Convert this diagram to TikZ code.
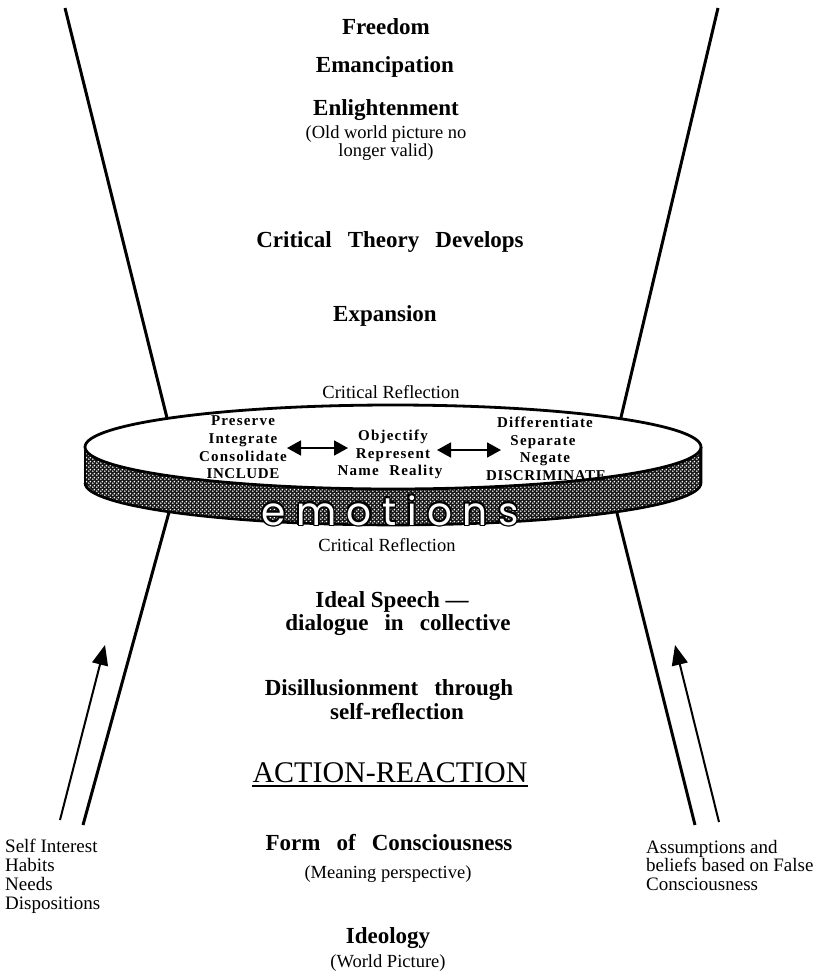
\documentclass[tikz,border=0pt]{standalone}
\usepackage{fontspec}
\setmainfont{Liberation Serif}
\newfontfamily\spacedfont[LetterSpace=8]{Liberation Serif}
\newfontfamily\capsfont[LetterSpace=4]{Liberation Serif}
\newfontfamily\emofont[LetterSpace=27]{Poppins}
\usetikzlibrary{arrows.meta,patterns}
\pgfdeclarepatternformonly{banddots}{\pgfqpoint{0pt}{0pt}}{\pgfqpoint{4pt}{4pt}}{\pgfqpoint{4pt}{4pt}}{%
  \pgfpathcircle{\pgfqpoint{1pt}{1pt}}{1.05pt}\pgfusepath{fill}%
  \pgfpathcircle{\pgfqpoint{3pt}{3pt}}{1.05pt}\pgfusepath{fill}}
\newcommand\ws{\hspace{0.7em}}
\begin{document}
\begin{tikzpicture}[x=1pt,y=-1pt,
  big/.style={font=\fontsize{23}{26}\selectfont\bfseries, anchor=base, inner sep=0pt},
  paren/.style={font=\fontsize{18.5}{21}\selectfont, anchor=base, inner sep=0pt},
  side/.style={font=\fontsize{19}{21}\selectfont, anchor=base west, inner sep=0pt},
  inner/.style={font=\spacedfont\fontsize{15}{17}\selectfont\bfseries, anchor=base, inner sep=0pt},
  innercaps/.style={font=\capsfont\fontsize{15}{17}\selectfont\bfseries, anchor=base, inner sep=0pt},
  funnel/.style={line width=3pt},
  thinarrow/.style={line width=2pt, -{Triangle[length=20pt,width=16pt]}},
  dbl/.style={line width=1.8pt, {Triangle[length=14pt,width=15pt]}-{Triangle[length=14pt,width=15pt]}},
  emo/.style={font=\emofont\fontsize{39}{44}\selectfont, anchor=base, inner sep=0pt}
]
\useasboundingbox (0,0) rectangle (817,972);

% funnel lines
\coordinate (ult) at (65,8);   \coordinate (ulb) at (170,430);
\coordinate (urt) at (718,8);  \coordinate (urb) at (618,430);
\coordinate (llt) at (171,505); \coordinate (llb) at (83,825);
\coordinate (lrt) at (615,505); \coordinate (lrb) at (695,825);
\draw[funnel] (ult) -- (ulb);
\draw[funnel] (urt) -- (urb);
\draw[funnel] (llt) -- (llb);
\draw[funnel] (lrt) -- (lrb);

% disc side band
\fill[black!90] (85,483) arc[start angle=180,end angle=360,x radius=308pt,y radius=42pt]
   -- (701,447) arc[start angle=0,end angle=-180,x radius=308pt,y radius=42pt] -- cycle;
\fill[pattern=banddots, pattern color=white] (85,483) arc[start angle=180,end angle=360,x radius=308pt,y radius=42pt]
   -- (701,447) arc[start angle=0,end angle=-180,x radius=308pt,y radius=42pt] -- cycle;
\draw[line width=2.6pt] (85,483) arc[start angle=180,end angle=360,x radius=308pt,y radius=42pt]
   -- (701,447);
\draw[line width=2.6pt] (85,447) -- (85,483);

% emotions outlined text
\coordinate (emoc) at (390,525);
\foreach \dx/\dy in {1.6/0,-1.6/0,0/1.6,0/-1.6,1.15/1.15,1.15/-1.15,-1.15/1.15,-1.15/-1.15}
  \node[emo, text=black, xshift=\dx pt, yshift=\dy pt] at (emoc) {emotions};
\node[emo, text=white] (emotions) at (emoc) {emotions};

% top face
\filldraw[fill=white, line width=2.8pt] (393,447) ellipse[x radius=308pt, y radius=42pt];

% top texts
\node[big] (freedom) at (386,34) {Freedom};
\node[big] (emanc) at (385,72) {Emancipation};
\node[big] (enl) at (386,115) {Enlightenment};
\node[paren] (old1) at (386,138) {(Old world picture no};
\node[paren] (old2) at (386,156) {longer valid)};
\node[big] (ctd) at (390,247) {Critical\ws Theory\ws Develops};
\node[big] (exp) at (385,321) {Expansion};
\node[paren] (cr1) at (391,398) {Critical Reflection};

% disc texts
\node[inner] (pres) at (243,425) {Preserve};
\node[inner] (integ) at (243,443) {Integrate};
\node[inner] (cons) at (243,461) {Consolidate};
\node[innercaps] (incl) at (243,478) {INCLUDE};
\node[inner] (obj) at (393,440) {Objectify};
\node[inner] (rep) at (393,458) {Represent};
\node[inner] (name) at (390,475) {Name\ws Reality};
\node[inner] (diff) at (545,427) {Differentiate};
\node[inner] (sep) at (543,445) {Separate};
\node[inner] (neg) at (545,462) {Negate};
\node[innercaps] (disc) at (546,480) {DISCRIMINATE};
\coordinate (a1l) at (287,448); \coordinate (a1r) at (348,448);
\coordinate (a2l) at (437,450); \coordinate (a2r) at (501,450);
\draw[dbl] (a1l) -- (a1r);
\draw[dbl] (a2l) -- (a2r);

% lower texts
\node[paren] (cr2) at (387,551) {Critical Reflection};
\node[big] (ideal) at (392,607) {Ideal Speech \textemdash};
\node[big] (dial) at (398,630) {dialogue\ws in\ws collective};
\node[big] (dis) at (389,695) {Disillusionment\ws through};
\node[big] (selfr) at (397,719) {self-reflection};
\node[font=\fontsize{30}{34}\selectfont, anchor=base, inner sep=0pt] (ar) at (390,782) {ACTION-REACTION};
\draw[line width=1.6pt] ([yshift=-4pt]ar.base west) -- ([yshift=-4pt]ar.base east);
\node[big] (form) at (389,850) {Form\ws of\ws Consciousness};
\node[paren] (mean) at (388,878) {(Meaning perspective)};
\node[big] (ideo) at (388,943) {Ideology};
\node[paren] (world) at (388,967) {(World Picture)};

% side texts
\node[side] (s1) at (5,852) {Self Interest};
\node[side] (s2) at (5,871) {Habits};
\node[side] (s3) at (5,890) {Needs};
\node[side] (s4) at (5,909) {Dispositions};
\node[side] (r1) at (646,853) {Assumptions and};
\node[side] (r2) at (646,871) {beliefs based on False};
\node[side] (r3) at (646,890) {Consciousness};

% thin arrows
\coordinate (la0) at (60,820); \coordinate (la1) at (105,645);
\coordinate (ra0) at (719,822); \coordinate (ra1) at (675,645);
\draw[thinarrow] (la0) -- (la1);
\draw[thinarrow] (ra0) -- (ra1);
\end{tikzpicture}
\end{document}
